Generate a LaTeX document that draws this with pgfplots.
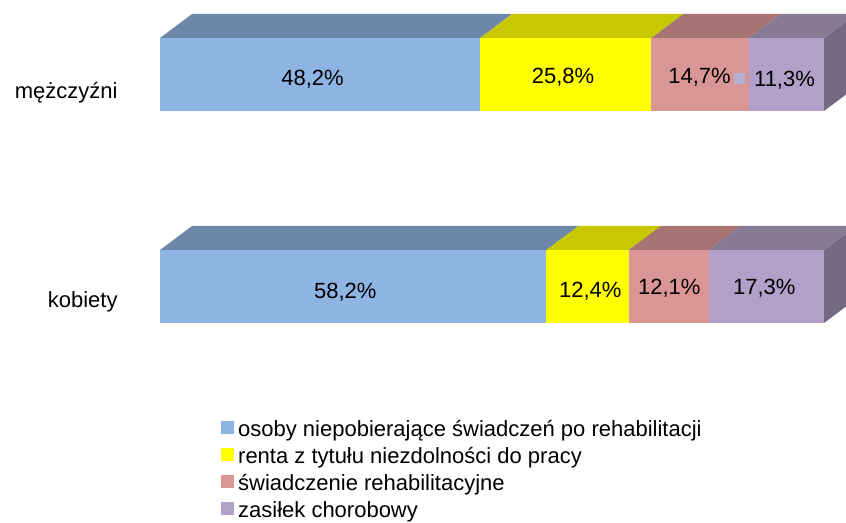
\documentclass[border=0pt]{standalone}
\usepackage{fontspec}
\setmainfont{Liberation Sans}
\usepackage{pgfplots}
\pgfplotsset{compat=1.18}
\definecolor{bluefront}{HTML}{8DB4E2}
\definecolor{bluetop}{HTML}{6C87AA}
\definecolor{yelfront}{HTML}{FFFF00}
\definecolor{yeltop}{HTML}{C8C800}
\definecolor{pinkfront}{HTML}{DA9694}
\definecolor{pinktop}{HTML}{A67472}
\definecolor{purfront}{HTML}{B1A0C7}
\definecolor{purtop}{HTML}{867A95}
\definecolor{purside}{HTML}{746A84}
\definecolor{straykey}{HTML}{B4B0D4}

\begin{document}
\begin{tikzpicture}[font=\fontsize{11bp}{13bp}\selectfont]
\begin{axis}[
    scale only axis,
    width=423bp, height=261bp,
    xmin=-24.10, xmax=103.31,
    ymin=0, ymax=522,
    axis x line=none,
    axis y line*=left,
    y axis line style={draw=none},
    tick style={draw=none},
    ytick={429.5,220},
    yticklabels={mężczyźni,kobiety},
    yticklabel style={anchor=east, inner sep=0pt, xshift=59bp},
    legend cell align=left,
    legend style={
        at={(rel axis cs:0.2612,0.1954)}, anchor=north west,
        draw=none, fill=none, inner sep=0pt,
        row sep=3bp,
        nodes={inner sep=0pt, text height=8bp, text depth=2.5bp},
        /tikz/every odd column/.append style={column sep=2bp},
    },
]
% front faces: men (legend entries)
\addplot[fill=bluefront, draw=none, legend image code/.code={\fill[bluefront] (0bp,-1.6bp) rectangle (6.4bp,4.8bp);}]
    coordinates {(0,411) (48.2,411) (48.2,484) (0,484)} -- cycle;
\addplot[fill=yelfront, draw=none, legend image code/.code={\fill[yelfront] (0bp,-1.6bp) rectangle (6.4bp,4.8bp);}]
    coordinates {(48.2,411) (74.0,411) (74.0,484) (48.2,484)} -- cycle;
\addplot[fill=pinkfront, draw=none, legend image code/.code={\fill[pinkfront] (0bp,-1.6bp) rectangle (6.4bp,4.8bp);}]
    coordinates {(74.0,411) (88.7,411) (88.7,484) (74.0,484)} -- cycle;
\addplot[fill=purfront, draw=none, legend image code/.code={\fill[purfront] (0bp,-1.6bp) rectangle (6.4bp,4.8bp);}]
    coordinates {(88.7,411) (100,411) (100,484) (88.7,484)} -- cycle;
\legend{osoby niepobierające świadczeń po rehabilitacji,renta z tytułu niezdolności do pracy,świadczenie rehabilitacyjne,zasiłek chorobowy}
% men top faces and side
\addplot[fill=bluetop, draw=none, forget plot] coordinates {(0,484) (48.2,484) (53.03,508) (4.83,508)} -- cycle;
\addplot[fill=yeltop, draw=none, forget plot] coordinates {(48.2,484) (74.0,484) (78.83,508) (53.03,508)} -- cycle;
\addplot[fill=pinktop, draw=none, forget plot] coordinates {(74.0,484) (88.7,484) (93.53,508) (78.83,508)} -- cycle;
\addplot[fill=purtop, draw=none, forget plot] coordinates {(88.7,484) (100,484) (104.83,508) (93.53,508)} -- cycle;
\addplot[fill=purside, draw=none, forget plot] coordinates {(100,411) (104.83,435) (104.83,508) (100,484)} -- cycle;
% women front faces
\addplot[fill=bluefront, draw=none, forget plot] coordinates {(0,199) (58.2,199) (58.2,272) (0,272)} -- cycle;
\addplot[fill=yelfront, draw=none, forget plot] coordinates {(58.2,199) (70.6,199) (70.6,272) (58.2,272)} -- cycle;
\addplot[fill=pinkfront, draw=none, forget plot] coordinates {(70.6,199) (82.7,199) (82.7,272) (70.6,272)} -- cycle;
\addplot[fill=purfront, draw=none, forget plot] coordinates {(82.7,199) (100,199) (100,272) (82.7,272)} -- cycle;
% women top faces and side
\addplot[fill=bluetop, draw=none, forget plot] coordinates {(0,272) (58.2,272) (63.03,296) (4.83,296)} -- cycle;
\addplot[fill=yeltop, draw=none, forget plot] coordinates {(58.2,272) (70.6,272) (75.43,296) (63.03,296)} -- cycle;
\addplot[fill=pinktop, draw=none, forget plot] coordinates {(70.6,272) (82.7,272) (87.53,296) (75.43,296)} -- cycle;
\addplot[fill=purtop, draw=none, forget plot] coordinates {(82.7,272) (100,272) (104.83,296) (87.53,296)} -- cycle;
\addplot[fill=purside, draw=none, forget plot] coordinates {(100,199) (104.83,223) (104.83,296) (100,272)} -- cycle;
% stray legend key inside the men's label
\addplot[only marks, mark=square*, color=straykey, mark size=2.5bp, forget plot] coordinates {(87.2,444)};
% data labels
\addplot[draw=none, mark=none, forget plot, point meta=explicit symbolic,
    nodes near coords, nodes near coords style={anchor=base, inner sep=0pt, text=black}]
    coordinates {
    (22.97,436)[48,2\%] (60.70,438.7)[25,8\%] (81.25,438.7)[14,7\%] (94.05,435)[11,3\%]
    (27.90,223.7)[58,2\%] (64.80,224.7)[12,4\%] (76.70,227)[12,1\%] (91.00,227)[17,3\%]
    };
\end{axis}
\end{tikzpicture}
\end{document}
